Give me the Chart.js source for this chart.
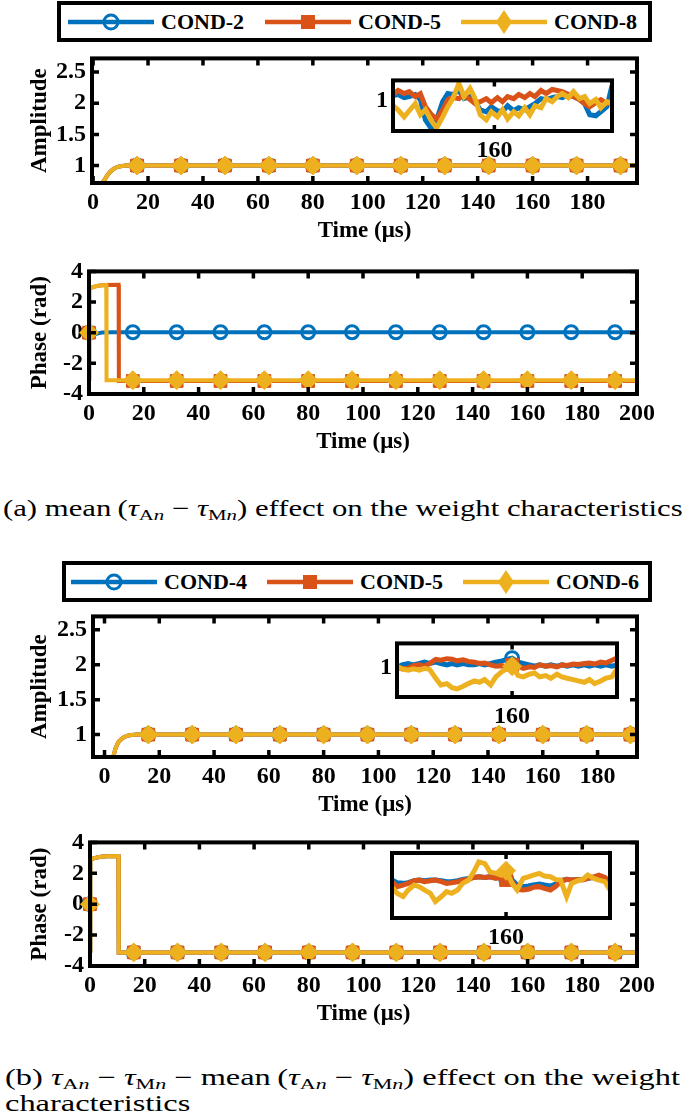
<!DOCTYPE html>
<html><head><meta charset="utf-8">
<script src="https://cdn.jsdelivr.net/npm/chart.js@4.4.1/dist/chart.umd.min.js"></script>
<style>
html,body{margin:0;padding:0;background:#fff;}
body{width:685px;height:1118px;position:relative;overflow:hidden;font-family:'Liberation Serif','Times New Roman',serif;}
canvas{position:absolute;}
.legend{position:absolute;border:4px solid #000;box-sizing:border-box;background:#fff;}
.item{position:absolute;display:flex;align-items:center;font-weight:bold;font-size:22px;white-space:nowrap;color:#000;}
.cap{position:absolute;white-space:nowrap;font-size:23px;transform-origin:0 50%;line-height:1;color:#000;}
.cap sub{font-size:0.68em;vertical-align:-0.28em;line-height:0;}
</style></head><body>
<div id="capA" class="cap" style="left:3px;top:497px">(a) mean&thinsp;(<i>τ</i><sub>A<i>n</i></sub> − <i>τ</i><sub>M<i>n</i></sub>) effect on the weight characteristics</div>
<div id="capB1" class="cap" style="left:5px;top:1066px">(b) <i>τ</i><sub>A<i>n</i></sub> − <i>τ</i><sub>M<i>n</i></sub> − mean&thinsp;(<i>τ</i><sub>A<i>n</i></sub> − <i>τ</i><sub>M<i>n</i></sub>) effect on the weight</div>
<div id="capB2" class="cap" style="left:5px;top:1092px">characteristics</div>
<script>
// ================= DATA =================
const legendA = ['COND-2', 'COND-5', 'COND-8'];
const legendB = ['COND-4', 'COND-5', 'COND-6'];

const ampTicks = [1, 1.5, 2, 2.5];
const phaseTicks = [-4, -2, 0, 2, 4];
const ampTimeTicks = [0, 20, 40, 60, 80, 100, 120, 140, 160, 180];
const phaseTimeTicks = [0, 20, 40, 60, 80, 100, 120, 140, 160, 180, 200];
const insetTimeTicks = [160];
const insetAmpTicks = [1];

// (a) amplitude, main
const ampTimeA = [3.2, 4, 5, 6, 7, 8, 9, 10, 12, 16, 32, 48, 64, 80, 96, 112, 128, 144, 160, 176, 192, 200];
const ampA_2 = [0.72, 0.76, 0.83, 0.89, 0.93, 0.96, 0.98, 0.99, 1, 1, 1, 1, 1, 1, 1, 1, 1, 1, 1, 1, 1, 1];
const ampA_5 = [0.72, 0.76, 0.83, 0.89, 0.93, 0.96, 0.98, 0.99, 1, 1, 1, 1, 1, 1, 1, 1, 1, 1, 1, 1, 1, 1];
const ampA_8 = [0.72, 0.76, 0.83, 0.89, 0.93, 0.96, 0.98, 0.99, 1, 1, 1, 1, 1, 1, 1, 1, 1, 1, 1, 1, 1, 1];

// (a) phase, main
const phaseTimeA2 = [0, 1, 3, 5, 8, 16, 32, 48, 64, 80, 96, 112, 128, 144, 160, 176, 192, 200];
const phaseA_2 = [0, -0.15, -0.05, 0.02, 0.03, 0.03, 0.03, 0.03, 0.03, 0.03, 0.03, 0.03, 0.03, 0.03, 0.03, 0.03, 0.03, 0.03];
const phaseTimeA5 = [0, 0.05, 0.15, 1, 2, 3, 4, 6, 10.8, 10.9, 16, 32, 48, 64, 80, 96, 112, 128, 144, 160, 176, 192, 200];
const phaseA_5 = [0, -3.14, 2.88, 2.95, 3.01, 3.05, 3.08, 3.11, 3.12, -3.15, -3.15, -3.15, -3.15, -3.15, -3.15, -3.15, -3.15, -3.15, -3.15, -3.15, -3.15, -3.15, -3.15];
const phaseTimeA8 = [0, 0.05, 0.15, 1, 2, 3, 4, 6, 6.3, 6.4, 16, 32, 48, 64, 80, 96, 112, 128, 144, 160, 176, 192, 200];
const phaseA_8 = [0, -3.14, 2.88, 2.95, 3.01, 3.05, 3.08, 3.11, 3.12, -3.1, -3.1, -3.1, -3.1, -3.1, -3.1, -3.1, -3.1, -3.1, -3.1, -3.1, -3.1, -3.1, -3.1];

// (a) amplitude inset
const insetTimeA = [150.0, 150.5, 151.1, 151.6, 152.2, 152.7, 153.2, 153.8, 154.3, 154.9, 155.4, 155.9, 156.5, 157.0, 157.6, 158.1, 158.6, 159.2, 159.7, 160.3, 160.8, 161.3, 161.9, 162.4, 163.0, 163.5, 164.0, 164.6, 165.1, 165.7, 166.2, 166.7, 167.3, 167.8, 168.4, 168.9, 169.4, 170.0, 170.5, 171.1, 171.6];
const insetAmpA_2 = [1.005, 1.006, 1.003, 1.004, 1.006, 1.001, 0.981, 0.972, 0.981, 0.999, 1.007, 1.006, 1.010, 1.002, 1.004, 0.999, 0.991, 0.989, 0.994, 0.990, 0.989, 0.995, 0.990, 0.993, 0.991, 0.994, 0.997, 1.002, 1.001, 1.003, 1.004, 1.003, 1.006, 1.004, 1.001, 0.997, 0.986, 0.985, 0.989, 0.994, 1.015];
const insetAmpA_5 = [1.006, 1.010, 1.007, 1.009, 1.004, 1.007, 0.994, 0.986, 0.982, 0.991, 1.001, 1.003, 1.002, 1.006, 1.001, 0.997, 0.999, 1.002, 0.998, 1.003, 0.999, 1.004, 1.002, 1.006, 1.003, 1.007, 1.004, 1.010, 1.007, 1.011, 1.010, 1.009, 1.006, 1.004, 1.001, 0.997, 0.994, 0.998, 1.001, 0.997, 1.001];
const insetAmpA_8 = [0.995, 0.991, 0.984, 0.990, 0.997, 0.986, 0.991, 0.980, 0.973, 0.984, 0.994, 1.002, 1.017, 1.004, 1.012, 1.002, 0.986, 0.981, 0.989, 0.984, 0.991, 0.982, 0.989, 0.985, 0.993, 0.986, 0.995, 0.993, 1.002, 0.999, 1.004, 1.007, 1.003, 1.009, 1.002, 1.004, 0.997, 1.001, 0.993, 0.999, 0.997];

// (b) amplitude, main
const ampTimeB = [3.2, 4, 5, 6, 7, 8, 9, 10, 12, 16, 32, 48, 64, 80, 96, 112, 128, 144, 160, 176, 192, 200];
const ampB_4 = [0.68, 0.80, 0.89, 0.93, 0.96, 0.98, 0.99, 0.995, 1, 1, 1, 1, 1, 1, 1, 1, 1, 1, 1, 1, 1, 1];
const ampB_5 = [0.68, 0.80, 0.89, 0.93, 0.96, 0.98, 0.99, 0.995, 1, 1, 1, 1, 1, 1, 1, 1, 1, 1, 1, 1, 1, 1];
const ampB_6 = [0.68, 0.80, 0.89, 0.93, 0.96, 0.98, 0.99, 0.995, 1, 1, 1, 1, 1, 1, 1, 1, 1, 1, 1, 1, 1, 1];

// (b) phase, main
const phaseTimeB = [0, 0.05, 0.15, 1, 2, 3, 4, 6, 10.4, 10.5, 16, 32, 48, 64, 80, 96, 112, 128, 144, 160, 176, 192, 200];
const phaseB_4 = [0, -3.14, 2.9, 2.95, 3.0, 3.04, 3.07, 3.1, 3.12, -3.12, -3.12, -3.12, -3.12, -3.12, -3.12, -3.12, -3.12, -3.12, -3.12, -3.12, -3.12, -3.12, -3.12];
const phaseB_5 = [0, -3.14, 2.9, 2.95, 3.0, 3.04, 3.07, 3.1, 3.12, -3.12, -3.12, -3.12, -3.12, -3.12, -3.12, -3.12, -3.12, -3.12, -3.12, -3.12, -3.12, -3.12, -3.12];
const phaseB_6 = [0, -3.14, 2.9, 2.95, 3.0, 3.04, 3.07, 3.1, 3.12, -3.12, -3.12, -3.12, -3.12, -3.12, -3.12, -3.12, -3.12, -3.12, -3.12, -3.12, -3.12, -3.12, -3.12];

// (b) insets
const insetTimeB = [148.7, 149.2, 149.8, 150.3, 150.9, 151.4, 151.9, 152.5, 153.0, 153.6, 154.1, 154.6, 155.2, 155.7, 156.3, 156.8, 157.3, 157.9, 158.4, 159.0, 159.5, 160, 160.6, 161.1, 161.7, 162.2, 162.7, 163.3, 163.8, 164.4, 164.9, 165.4, 166.0, 166.5, 167.1, 167.6, 168.1, 168.7, 169.2, 169.8, 170.3];
const insetAmpB_4 = [1.0000, 1.0010, 1.0015, 1.0010, 1.0015, 1.0020, 1.0015, 1.0020, 1.0015, 1.0010, 1.0015, 1.0010, 1.0015, 1.0010, 1.0010, 1.0015, 1.0010, 1.0015, 1.0020, 1.0025, 1.0030, 1.0035, 1.0020, 1.0015, 1.0010, 1.0005, 1.0010, 1.0005, 1.0010, 1.0005, 1.0010, 1.0005, 1.0010, 1.0005, 1.0010, 1.0005, 1.0010, 1.0005, 1.0010, 1.0005, 1.0010];
const insetAmpB_5 = [1.0000, 0.9995, 0.9997, 1.0007, 1.0010, 1.0005, 1.0015, 1.0030, 1.0027, 1.0033, 1.0031, 1.0025, 1.0029, 1.0023, 1.0020, 1.0015, 1.0017, 1.0010, 1.0005, 1.0007, 1.0000, 1.0010, 1.0005, 0.9997, 1.0003, 1.0000, 1.0010, 1.0005, 1.0007, 1.0002, 1.0010, 1.0008, 1.0013, 1.0011, 1.0015, 1.0017, 1.0013, 1.0020, 1.0017, 1.0027, 1.0035];
const insetAmpB_6 = [1.0005, 0.9995, 0.9990, 0.9995, 0.9990, 0.9997, 0.9993, 0.9960, 0.9935, 0.9940, 0.9925, 0.9920, 0.9930, 0.9940, 0.9950, 0.9945, 0.9955, 0.9935, 0.9965, 0.9985, 0.9995, 1.0005, 0.9970, 0.9965, 0.9975, 0.9980, 0.9965, 0.9970, 0.9960, 0.9975, 0.9965, 0.9960, 0.9955, 0.9950, 0.9945, 0.9955, 0.9940, 0.9950, 0.9960, 0.9965, 0.9995];
const insetPhaseB_4 = [-3.082, -3.090, -3.092, -3.090, -3.084, -3.082, -3.084, -3.082, -3.082, -3.084, -3.087, -3.087, -3.084, -3.080, -3.077, -3.074, -3.072, -3.074, -3.072, -3.074, -3.072, -3.077, -3.082, -3.097, -3.102, -3.100, -3.097, -3.094, -3.097, -3.100, -3.094, -3.084, -3.080, -3.082, -3.080, -3.080, -3.077, -3.074, -3.072, -3.077, -3.092];
const insetPhaseB_5 = [-3.087, -3.102, -3.097, -3.092, -3.084, -3.082, -3.087, -3.084, -3.082, -3.087, -3.092, -3.090, -3.087, -3.082, -3.080, -3.074, -3.072, -3.074, -3.072, -3.077, -3.074, -3.082, -3.087, -3.110, -3.112, -3.110, -3.104, -3.102, -3.107, -3.112, -3.102, -3.087, -3.080, -3.082, -3.080, -3.082, -3.077, -3.072, -3.067, -3.074, -3.087];
const insetPhaseB_6 = [-3.102, -3.122, -3.132, -3.112, -3.097, -3.102, -3.112, -3.122, -3.147, -3.132, -3.117, -3.122, -3.112, -3.092, -3.082, -3.057, -3.027, -3.032, -3.057, -3.062, -3.067, -3.054, -3.092, -3.112, -3.077, -3.072, -3.067, -3.062, -3.070, -3.072, -3.080, -3.082, -3.132, -3.092, -3.084, -3.080, -3.067, -3.077, -3.082, -3.087, -3.112];

// ================= STYLE / DRAWING =================
const FONT = "'Liberation Serif','Times New Roman',serif";
const COLORS = ['#0072BD', '#D95319', '#EDB120'];
const SHAPES = ['circle', 'rect', 'rectRot'];
const MARKER_R = [6.5, 9, 9.5];

Chart.defaults.font.family = FONT;

const framePlugin = {
  id: 'frame',
  beforeDatasetsDraw(chart, args, o) {
    if (!o.fill) return;
    const a = chart.chartArea, ctx = chart.ctx;
    ctx.save(); ctx.fillStyle = '#fff';
    ctx.fillRect(a.left, a.top, a.right - a.left, a.bottom - a.top);
    ctx.restore();
  },
  afterDatasetsDraw(chart, args, o) {
    const {ctx, chartArea: a, scales} = chart;
    const L = o.tickLen || 7;
    ctx.save();
    ctx.strokeStyle = '#000';
    ctx.lineWidth = o.tickWidth || 3.5;
    ctx.beginPath();
    scales.x.ticks.forEach(t => {
      const p = scales.x.getPixelForValue(t.value);
      ctx.moveTo(p, a.bottom); ctx.lineTo(p, a.bottom - L);
      ctx.moveTo(p, a.top); ctx.lineTo(p, a.top + L);
    });
    if (o.yTicks !== false) {
      scales.y.ticks.forEach(t => {
        const p = scales.y.getPixelForValue(t.value);
        ctx.moveTo(a.left, p); ctx.lineTo(a.left + L, p);
        ctx.moveTo(a.right, p); ctx.lineTo(a.right - L, p);
      });
    }
    ctx.stroke();
    ctx.lineWidth = o.lineWidth || 4;
    ctx.strokeRect(a.left, a.top, a.right - a.left, a.bottom - a.top);
    ctx.restore();
  }
};

function pts(xs, ys) { return xs.map((x, i) => ({x: x, y: ys[i]})); }

function datasets(names, xsList, ysList, lw, clip) {
  return names.map((n, i) => ({
    label: n,
    data: pts(xsList[i], ysList[i]),
    borderColor: COLORS[i],
    borderWidth: lw,
    pointStyle: SHAPES[i],
    pointRadius: c => (c.raw && c.raw.x % 16 === 0) ? MARKER_R[i] : 0,
    pointBackgroundColor: i === 0 ? 'rgba(255,255,255,0)' : COLORS[i],
    pointBorderColor: COLORS[i],
    pointBorderWidth: i === 0 ? 3 : 1,
    order: 3 - i,
    tension: 0,
    clip: clip
  }));
}

const tickFont = {family: FONT, weight: 'bold', size: 24, lineHeight: 1.2};
const titleFont = {family: FONT, weight: 'bold', size: 23, lineHeight: 1.2};

function plot(box, ds, o) {
  const cv = document.createElement('canvas');
  const canvasLeft = o.canvasLeft;
  const W = box.right - canvasLeft + o.padRight;
  const H = o.padTop + (box.bottom - box.top) + o.xH;
  cv.width = W; cv.height = H;
  cv.style.left = canvasLeft + 'px';
  cv.style.top = (box.top - o.padTop) + 'px';
  cv.style.width = W + 'px'; cv.style.height = H + 'px';
  document.body.appendChild(cv);
  new Chart(cv, {
    type: 'line',
    data: {datasets: ds},
    options: {
      responsive: false, animation: false, devicePixelRatio: 1,
      events: [],
      layout: {padding: {top: o.padTop, right: o.padRight, left: 0, bottom: 0}},
      plugins: {legend: {display: false}, tooltip: {enabled: false},
        frame: {fill: !!o.fill, yTicks: o.yFrameTicks, tickLen: o.tickLen}},
      scales: {
        x: {
          type: 'linear', min: o.xMin, max: o.xMax,
          afterBuildTicks: s => { s.ticks = o.xTicks.map(v => ({value: v})); },
          afterFit: s => { s.height = o.xH; },
          grid: {display: false, drawTicks: false}, border: {display: false},
          ticks: {font: tickFont, color: '#000', padding: o.xPad, maxRotation: 0, autoSkip: false,
                  callback: v => String(v)},
          title: o.xTitle ? {display: true, text: o.xTitle, color: '#000', font: titleFont,
                  padding: {top: 0, bottom: o.xTitlePad}} : {display: false}
        },
        y: {
          type: 'linear', min: o.yMin, max: o.yMax,
          afterBuildTicks: s => { s.ticks = o.yTicks.map(v => ({value: v})); },
          afterFit: s => { s.width = box.left - canvasLeft; },
          grid: {display: false, drawTicks: false}, border: {display: false},
          ticks: {display: o.yLabels !== false, font: tickFont, color: '#000', padding: o.yPad,
                  autoSkip: false, callback: v => String(v)},
          title: o.yTitle ? {display: true, text: o.yTitle, color: '#000', font: titleFont,
                  padding: {top: o.yTitlePad, bottom: 0}} : {display: false}
        }
      }
    },
    plugins: [framePlugin]
  });
}

const mainOpt = {canvasLeft: 0, padTop: 14, xH: 62, xPad: 5, xTitlePad: 0, yPad: 6, yTitlePad: 26, tickLen: 7};
const clipMain = {left: 14, top: 14, right: 0, bottom: 14};

// (a) amplitude
plot({left: 92, right: 637, top: 52, bottom: 183},
  datasets(legendA, [ampTimeA, ampTimeA, ampTimeA], [ampA_2, ampA_5, ampA_8], 4, clipMain),
  Object.assign({}, mainOpt, {padRight: 48, xMin: -0.4, xMax: 198, yMin: 0.72, yMax: 2.72,
    xTicks: ampTimeTicks, yTicks: ampTicks, xTitle: 'Time (μs)', yTitle: 'Amplitude'}));
// (a) phase
plot({left: 89, right: 637, top: 265, bottom: 394},
  datasets(legendA, [phaseTimeA2, phaseTimeA5, phaseTimeA8], [phaseA_2, phaseA_5, phaseA_8], 4, clipMain),
  Object.assign({}, mainOpt, {padRight: 48, xMin: 0, xMax: 200, yMin: -4, yMax: 4,
    xTicks: phaseTimeTicks, yTicks: phaseTicks, xTitle: 'Time (μs)', yTitle: 'Phase (rad)'}));
// (b) amplitude
plot({left: 93, right: 637, top: 610, bottom: 757},
  datasets(legendB, [ampTimeB, ampTimeB, ampTimeB], [ampB_4, ampB_5, ampB_6], 4, clipMain),
  Object.assign({}, mainOpt, {padRight: 48, xMin: -4.2, xMax: 194.4, yMin: 0.68, yMax: 2.69,
    xTicks: ampTimeTicks, yTicks: ampTicks, xTitle: 'Time (μs)', yTitle: 'Amplitude'}));
// (b) phase
plot({left: 90, right: 637, top: 836, bottom: 966},
  datasets(legendB, [phaseTimeB, phaseTimeB, phaseTimeB], [phaseB_4, phaseB_5, phaseB_6], 4, clipMain),
  Object.assign({}, mainOpt, {padRight: 48, xMin: 0, xMax: 200, yMin: -4, yMax: 4,
    xTicks: phaseTimeTicks, yTicks: phaseTicks, xTitle: 'Time (μs)', yTitle: 'Phase (rad)'}));

// insets
const insetOpt = {padTop: 6, padRight: 6, xH: 36, xPad: 5, yPad: 5, tickLen: 6, yFrameTicks: false, fill: true};
const clipInset = {left: 0, top: 0, right: 0, bottom: 0};
plot({left: 393, right: 612, top: 67, bottom: 131},
  datasets(legendA, [insetTimeA, insetTimeA, insetTimeA], [insetAmpA_2, insetAmpA_5, insetAmpA_8], 5, clipInset),
  Object.assign({}, insetOpt, {canvasLeft: 358, xMin: 150, xMax: 171.6, yMin: 0.97, yMax: 1.02,
    xTicks: insetTimeTicks, yTicks: insetAmpTicks}));
plot({left: 397, right: 617, top: 630, bottom: 697},
  datasets(legendB, [insetTimeB, insetTimeB, insetTimeB], [insetAmpB_4, insetAmpB_5, insetAmpB_6], 5, clipInset),
  Object.assign({}, insetOpt, {canvasLeft: 362, xMin: 148.7, xMax: 170.3, yMin: 0.989, yMax: 1.009,
    xTicks: insetTimeTicks, yTicks: insetAmpTicks}));
plot({left: 392, right: 610, top: 853, bottom: 918},
  datasets(legendB, [insetTimeB, insetTimeB, insetTimeB], [insetPhaseB_4, insetPhaseB_5, insetPhaseB_6], 5, clipInset),
  Object.assign({}, insetOpt, {canvasLeft: 357, xMin: 148.7, xMax: 170.3, yMin: -3.197, yMax: -3.0,
    xTicks: insetTimeTicks, yTicks: [-3.1], yLabels: false}));

// legends
function svgIcon(i) {
  const c = COLORS[i];
  let m;
  if (i === 0) m = `<circle cx="43" cy="15" r="7" fill="none" stroke="${c}" stroke-width="3"/>`;
  else if (i === 1) m = `<rect x="36" y="8" width="14" height="14" fill="${c}"/>`;
  else m = `<polygon points="43,3 51,15 43,27 35,15" fill="${c}"/>`;
  return `<svg width="86" height="30" style="display:block"><line x1="0" y1="15" x2="86" y2="15" stroke="${c}" stroke-width="4.5"/>${m}</svg>`;
}
function legend(names, box, xs) {
  const d = document.createElement('div'); d.className = 'legend';
  Object.assign(d.style, {left: box.left + 'px', top: box.top + 'px', width: box.w + 'px', height: box.h + 'px'});
  document.body.appendChild(d);
  names.forEach((n, i) => {
    const it = document.createElement('div'); it.className = 'item';
    it.style.left = xs[i] + 'px';
    it.style.top = (box.top + box.h / 2 - 15) + 'px';
    it.style.height = '30px';
    it.innerHTML = svgIcon(i) + `<span style="margin-left:7px">${n}</span>`;
    document.body.appendChild(it);
  });
}
legend(legendA, {left: 57, top: 1, w: 595, h: 41}, [68, 265, 461]);
legend(legendB, {left: 62, top: 561, w: 590, h: 41}, [71, 267, 463]);

// fit captions
function fitCaps() {
  const a = document.getElementById('capA');
  a.style.transform = `scaleX(${680 / a.offsetWidth})`;
  const b1 = document.getElementById('capB1');
  const s = 675 / b1.offsetWidth;
  b1.style.transform = `scaleX(${s})`;
  document.getElementById('capB2').style.transform = `scaleX(${s})`;
}
fitCaps();
if (document.fonts && document.fonts.ready) document.fonts.ready.then(fitCaps);
</script>
</body></html>
